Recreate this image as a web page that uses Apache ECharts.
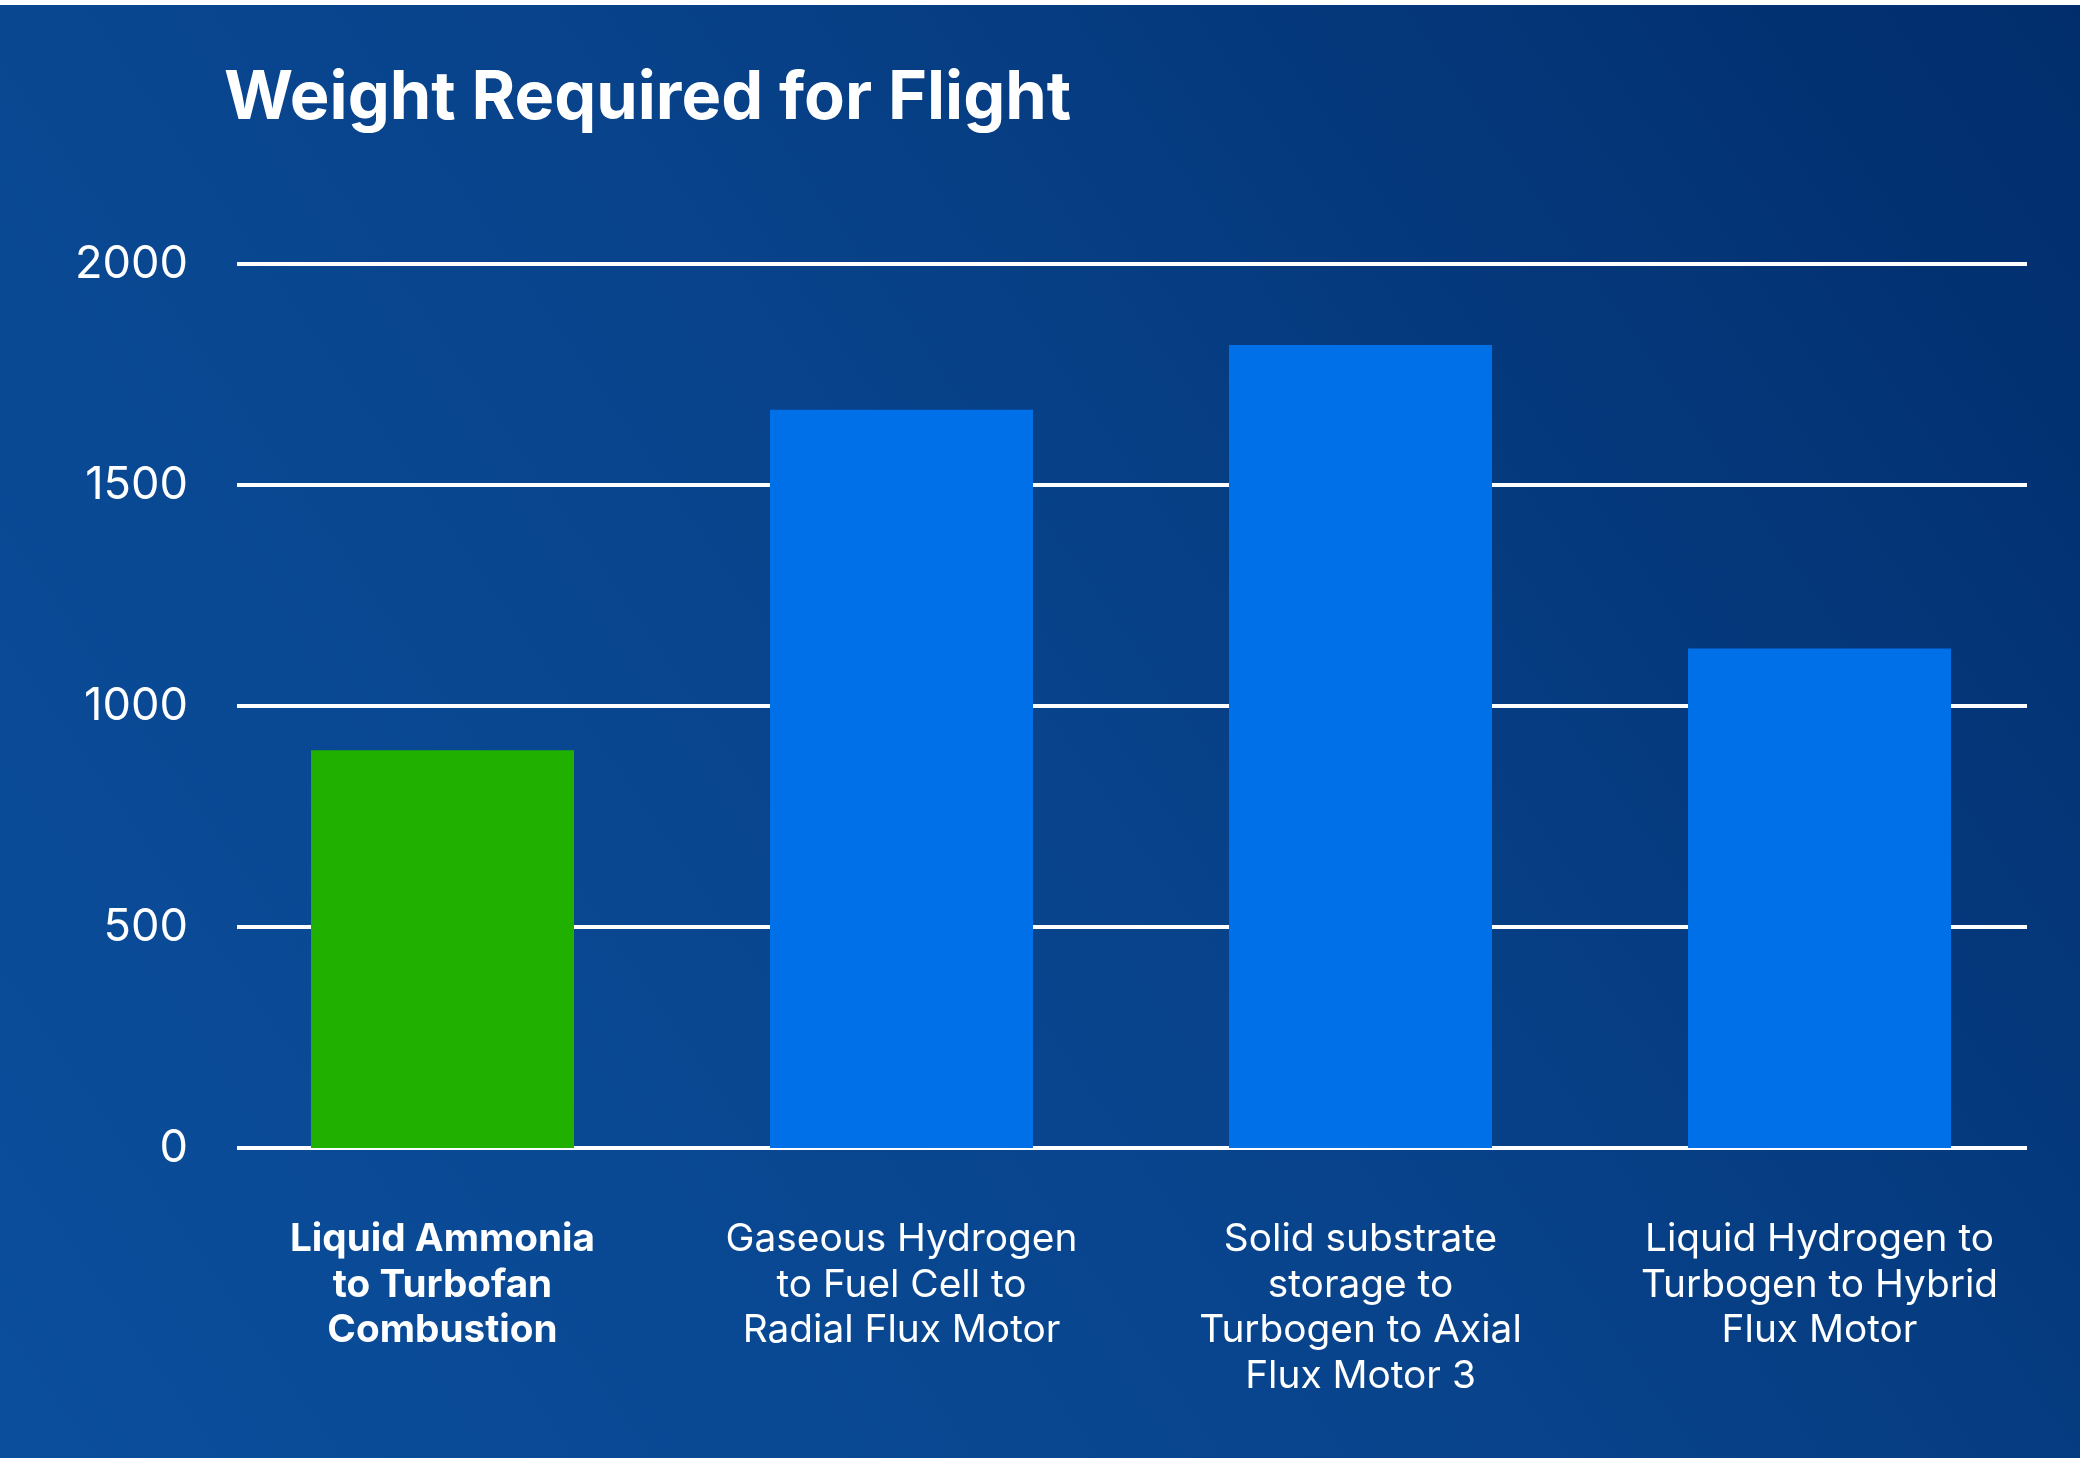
<!DOCTYPE html>
<html>
<head>
<meta charset="utf-8">
<script src="https://cdn.jsdelivr.net/npm/echarts@6/dist/echarts.min.js"></script>
<style>
html,body{margin:0;padding:0;background:#fff;}
#c{width:2080px;height:1458px;}
</style>
</head>
<body>
<div id="c"></div>
<script>
// ---- data ----
const titleText = 'Weight Required for Flight';
const categories = [
  'Liquid Ammonia\nto Turbofan\nCombustion',
  'Gaseous Hydrogen\nto Fuel Cell to\nRadial Flux Motor',
  'Solid substrate\nstorage to\nTurbogen to Axial\nFlux Motor 3',
  'Liquid Hydrogen to\nTurbogen to Hybrid\nFlux Motor'
];
const values = [900, 1670, 1817, 1130];
const yTicks = [0, 500, 1000, 1500, 2000];
const highlightIndex = 0;

// ---- font fitting ----
const fam = 'Inter, "Open Sans", sans-serif';
const mctx = document.createElement('canvas').getContext('2d');
function fit(text, weight, target) {
  mctx.font = weight + ' 100px ' + fam;
  return Math.round(100 * target / mctx.measureText(text).width * 10) / 10;
}
const titleSize = fit(titleText, 700, 848);
const labelSize = fit('Gaseous Hydrogen', 400, 352);
const boldLabelSize = fit('Liquid Ammonia', 700, 305);
const ySize = fit('2000', 400, 113);

const chart = echarts.init(document.getElementById('c'), null, {renderer: 'canvas'});
const yMin = yTicks[0], yMax = yTicks[yTicks.length - 1], yInt = yTicks[1] - yTicks[0];

chart.setOption({
  backgroundColor: '#ffffff',
  animation: false,
  graphic: [{
    type: 'rect', z: -100, silent: true,
    shape: {x: 0, y: 5, width: 2080, height: 1453},
    style: {fill: new echarts.graphic.LinearGradient(0, 1, 1, 0, [
      {offset: 0, color: '#0b4e9c'},
      {offset: 0.5, color: '#08438b'},
      {offset: 1, color: '#012d6c'}
    ])}
  }],
  title: {
    text: titleText, left: 219, top: 60,
    textStyle: {color: '#ffffff', fontFamily: fam, fontWeight: 700, fontSize: titleSize}
  },
  grid: [
    {left: 237, right: 53, top: 264, bottom: 310, containLabel: false},
    {left: 213, right: 31, top: 264, bottom: 310, containLabel: false}
  ],
  xAxis: [
    {gridIndex: 0, type: 'value', show: false, min: 0, max: 1},
    {
      gridIndex: 1, type: 'category',
      data: categories.map((c, i) => i === highlightIndex
        ? {value: c, textStyle: {fontWeight: 700, fontSize: boldLabelSize}}
        : c),
      axisLine: {show: false}, axisTick: {show: false},
      axisLabel: {
        color: '#ffffff', fontFamily: fam, fontSize: labelSize, lineHeight: 45.5,
        margin: 69, interval: 0, align: 'center'
      }
    }
  ],
  yAxis: [
    {
      gridIndex: 0, type: 'value', min: yMin, max: yMax, interval: yInt,
      axisLine: {show: false}, axisTick: {show: false},
      splitLine: {show: true, lineStyle: {color: '#ffffff', width: 4}},
      axisLabel: {color: '#ffffff', fontFamily: fam, fontSize: ySize, margin: 49,
        padding: [5, 0, 0, 0], formatter: v => String(v)}
    },
    {
      gridIndex: 1, type: 'value', min: yMin, max: yMax, interval: yInt, show: false,
      splitLine: {show: false}
    }
  ],
  series: [{
    type: 'bar', xAxisIndex: 1, yAxisIndex: 1,
    data: values, barWidth: 263,
    itemStyle: {color: p => p.dataIndex === highlightIndex ? '#20b000' : '#0070e8'},
    z: 5
  }]
});
</script>
</body>
</html>
